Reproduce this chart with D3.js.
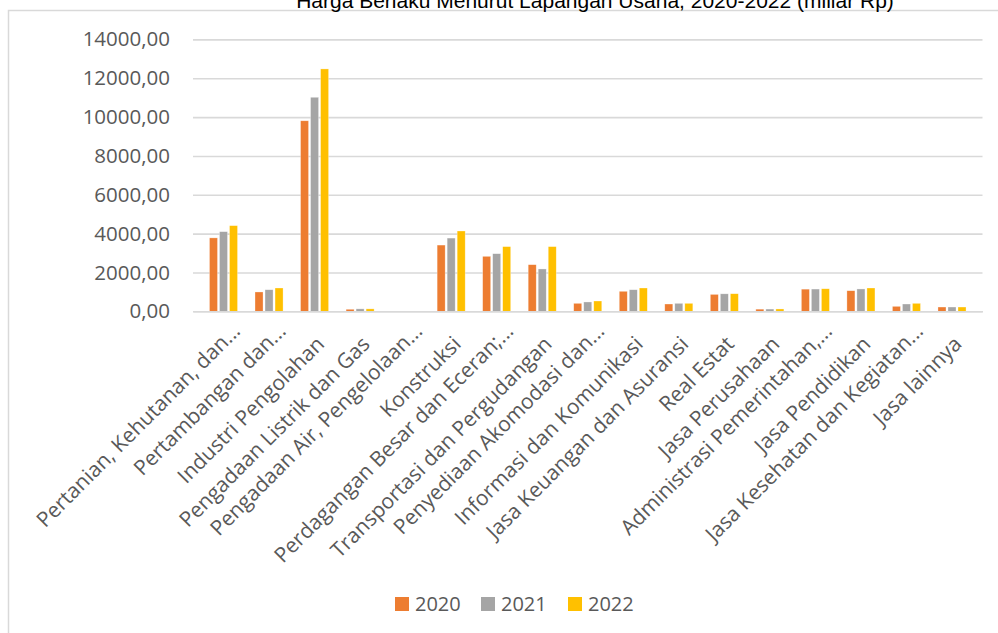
<!DOCTYPE html>
<html>
<head>
<meta charset="utf-8">
<script src="https://cdn.jsdelivr.net/npm/d3@7"></script>
<style>
  html, body { margin: 0; padding: 0; background: #fff; }
  svg { display: block; }
</style>
</head>
<body>
<svg id="chart" width="998" height="633"></svg>
<script>
// PDRB atas dasar harga berlaku per lapangan usaha (miliar Rp)
const categories = [
  "Pertanian, Kehutanan, dan...",
  "Pertambangan dan...",
  "Industri Pengolahan",
  "Pengadaan Listrik dan Gas",
  "Pengadaan Air, Pengelolaan...",
  "Konstruksi",
  "Perdagangan Besar dan Eceran;...",
  "Transportasi dan Pergudangan",
  "Penyediaan Akomodasi dan...",
  "Informasi dan Komunikasi",
  "Jasa Keuangan dan Asuransi",
  "Real Estat",
  "Jasa Perusahaan",
  "Administrasi Pemerintahan,...",
  "Jasa Pendidikan",
  "Jasa Kesehatan dan Kegiatan...",
  "Jasa lainnya"
];
const seriesNames = ["2020", "2021", "2022"];
const values2020 = [3780, 995, 9810, 105, 5, 3410, 2830, 2400, 410, 1030, 375, 870, 110, 1140, 1060, 255, 220];
const values2021 = [4100, 1110, 11020, 125, 5, 3770, 2965, 2180, 480, 1110, 410, 900, 115, 1145, 1150, 375, 220];
const values2022 = [4410, 1200, 12480, 125, 6, 4135, 3330, 3330, 530, 1200, 410, 905, 120, 1160, 1200, 410, 220];
const yTicks = [0, 2000, 4000, 6000, 8000, 10000, 12000, 14000];
const colors = ["#ED7D31", "#A5A5A5", "#FFC000"];
const title = "Harga Berlaku Menurut Lapangan Usaha, 2020-2022 (miliar Rp)";

const seriesValues = [values2020, values2021, values2022];
const rows = categories.map((c, i) => ({
  category: c,
  values: seriesNames.map((s, k) => ({ key: s, value: seriesValues[k][i] }))
}));

const svg = d3.select("#chart");
const textColor = "#595959";
const gridColor = "#d9d9d9";
const labelFont = "Open Sans, sans-serif";

// chart area border
svg.append("rect")
  .attr("x", 8.5).attr("y", 10.5)
  .attr("width", 1100).attr("height", 800)
  .attr("fill", "#fff")
  .attr("stroke", gridColor)
  .attr("stroke-width", 1.5);

// title (sits above the chart area border)
svg.append("text")
  .attr("x", 595).attr("y", 8)
  .attr("text-anchor", "middle")
  .attr("font-family", "Liberation Sans, Arial, sans-serif")
  .attr("font-size", 21)
  .attr("fill", "#000")
  .text(title);

const plot = { left: 193, right: 982.5, top: 39.4, bottom: 311.3 };

const y = d3.scaleLinear().domain([0, 14000]).range([plot.bottom, plot.top]);
const x0 = d3.scaleBand().domain(categories).range([plot.left, plot.right]).padding(0.34);
const x1 = d3.scaleBand().domain(seriesNames).range([0, x0.bandwidth()])
  .paddingInner(0.2).paddingOuter(0.1);
const color = d3.scaleOrdinal().domain(seriesNames).range(colors);

// gridlines and value labels
const yAxis = d3.axisLeft(y)
  .tickValues(yTicks)
  .tickSize(-(plot.right - plot.left))
  .tickPadding(23)
  .tickFormat(d => d3.format(".2f")(d).replace(".", ","));

const gY = svg.append("g")
  .attr("transform", `translate(${plot.left},0)`)
  .call(yAxis);
gY.select(".domain").remove();
gY.selectAll(".tick line")
  .attr("stroke", gridColor)
  .attr("stroke-width", 1.6);
gY.selectAll(".tick text")
  .attr("fill", textColor)
  .attr("font-family", labelFont)
  .attr("font-size", 20.5);

// bars
const groups = svg.append("g")
  .selectAll("g")
  .data(rows)
  .join("g")
  .attr("transform", d => `translate(${x0(d.category)},0)`);

groups.selectAll("rect")
  .data(d => d.values)
  .join("rect")
  .attr("x", d => x1(d.key))
  .attr("y", d => y(d.value))
  .attr("width", x1.bandwidth())
  .attr("height", d => y(0) - y(d.value))
  .attr("fill", d => color(d.key))
  .attr("stroke", "#fff")
  .attr("stroke-opacity", 0.5)
  .attr("stroke-width", 0.6);

// category axis with slanted labels; shortened labels sit one notch higher
const xAxis = d3.axisBottom(x0).tickSize(0).tickPadding(0);
const gX = svg.append("g")
  .attr("transform", `translate(0,${plot.bottom})`)
  .call(xAxis);
gX.select(".domain")
  .attr("stroke", gridColor)
  .attr("stroke-width", 1.6);
gX.selectAll(".tick text")
  .attr("fill", textColor)
  .attr("font-family", labelFont)
  .attr("font-size", 21)
  .attr("text-anchor", "end")
  .attr("transform", d => d.endsWith("...")
    ? "translate(18,21) rotate(-45)"
    : "translate(11,34) rotate(-45)")
  .attr("dy", 0)
  .attr("y", 0)
  .attr("x", 0);

// legend
const legend = svg.append("g").attr("transform", "translate(395,597)");
const legendX = [0, 86, 173];
seriesNames.forEach((s, k) => {
  const g = legend.append("g").attr("transform", `translate(${legendX[k]},0)`);
  g.append("rect").attr("width", 14).attr("height", 14).attr("fill", colors[k]);
  g.append("text")
    .attr("x", 20).attr("y", 7)
    .attr("dy", "0.35em")
    .attr("fill", textColor)
    .attr("font-family", labelFont)
    .attr("font-size", 20)
    .text(s);
});
</script>
</body>
</html>
